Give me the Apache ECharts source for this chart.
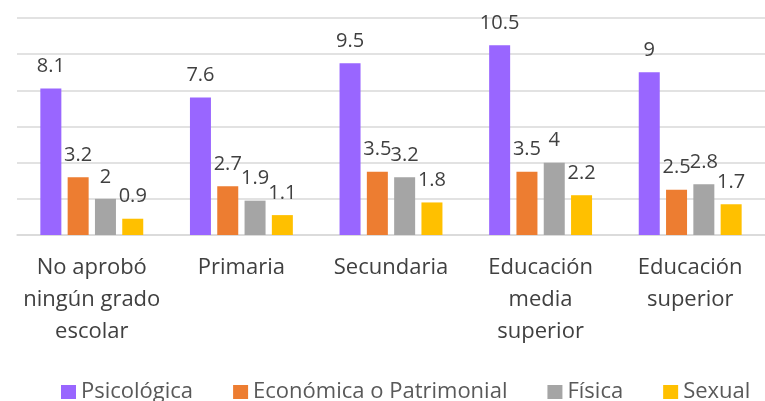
<!DOCTYPE html>
<html>
<head>
<meta charset="utf-8">
<script src="https://cdn.jsdelivr.net/npm/echarts@6/dist/echarts.min.js"></script>
<style>
  html, body { margin: 0; padding: 0; background: #fff; }
  #chart { width: 765px; height: 401px; }
</style>
</head>
<body>
<div id="chart"></div>
<script>
// datos
const categorias = ['No aprobó\nningún grado\nescolar', 'Primaria', 'Secundaria', 'Educación\nmedia\nsuperior', 'Educación\nsuperior'];
const psicologica = [8.1, 7.6, 9.5, 10.5, 9];
const economica = [3.2, 2.7, 3.5, 3.5, 2.5];
const fisica = [2, 1.9, 3.2, 4, 2.8];
const sexual = [0.9, 1.1, 1.8, 2.2, 1.7];

const colores = ['#9966FF', '#ED7D31', '#A5A5A5', '#FFC000'];
const fuente = '"Open Sans", "Noto Sans", sans-serif';

function serie(nombre, datos, color) {
  return {
    name: nombre,
    type: 'bar',
    data: datos,
    barWidth: 21,
    barGap: '30%',
    itemStyle: { color: color },
    label: {
      show: true,
      position: 'top',
      distance: 12,
      color: '#404040',
      fontSize: 20,
      fontFamily: fuente
    }
  };
}

const chart = echarts.init(document.getElementById('chart'));
chart.setOption({
  animation: false,
  grid: { left: 17, right: 0, top: 18, bottom: 166 },
  legend: {
    top: 376,
    left: 56,
    itemWidth: 15,
    itemHeight: 14,
    itemGap: 40,
    icon: 'rect',
    textStyle: { color: '#595959', fontSize: 22, fontFamily: fuente }
  },
  xAxis: {
    type: 'category',
    data: categorias,
    axisLine: { lineStyle: { color: '#D9D9D9', width: 1.5 } },
    axisTick: { show: false },
    axisLabel: {
      color: '#404040',
      fontSize: 22,
      fontFamily: fuente,
      lineHeight: 32,
      margin: 17,
      interval: 0
    }
  },
  yAxis: {
    type: 'value',
    min: 0,
    max: 12,
    interval: 2,
    axisLabel: { show: false },
    axisLine: { show: false },
    axisTick: { show: false },
    splitLine: { lineStyle: { color: '#D9D9D9', width: 1.5 } }
  },
  series: [
    serie('Psicológica', psicologica, colores[0]),
    serie('Económica o Patrimonial', economica, colores[1]),
    serie('Física', fisica, colores[2]),
    serie('Sexual', sexual, colores[3])
  ]
});
</script>
</body>
</html>
